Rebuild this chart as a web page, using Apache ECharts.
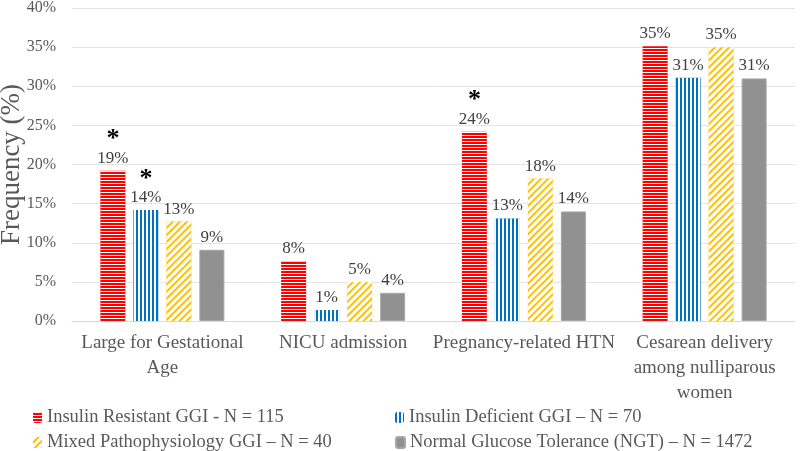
<!DOCTYPE html>
<html>
<head>
<meta charset="utf-8">
<script src="https://cdn.jsdelivr.net/npm/echarts@6/dist/echarts.min.js"></script>
<style>
  html, body { margin: 0; padding: 0; background: #fff; }
  #main { width: 800px; height: 451px; }
</style>
</head>
<body>
<div id="main"></div>
<script>
// 数据
var categories = ['Large for Gestational\nAge', 'NICU admission', 'Pregnancy-related HTN', 'Cesarean delivery\namong nulliparous\nwomen'];
var seriesNames = ['Insulin Resistant GGI - N = 115', 'Insulin Deficient GGI \u2013 N = 70', 'Mixed Pathophysiology GGI \u2013 N = 40', 'Normal Glucose Tolerance (NGT) \u2013 N = 1472'];
var insulinResistant = [19.2, 7.6, 24.2, 35.1];
var insulinDeficient = [14.2, 1.4, 13.1, 31.1];
var mixed = [12.7, 5.0, 18.2, 35.0];
var normal = [9.1, 3.6, 14.0, 31.0];
// 显著性星号
var starsIR = [true, false, true, false];
var starsID = [true, false, false, false];
var yTicks = ['0%', '5%', '10%', '15%', '20%', '25%', '30%', '35%', '40%'];

var serif = '"Liberation Serif", "Times New Roman", serif';

function makeLabel(stars) {
  return {
    show: true,
    position: 'top',
    distance: 3,
    fontFamily: serif,
    fontSize: 17,
    color: '#404040',
    formatter: function (p) {
      var txt = Math.round(p.value) + '%';
      if (stars && stars[p.dataIndex]) {
        return '{star|*}\n{v|' + txt + '}';
      }
      return '{v|' + txt + '}';
    },
    rich: {
      v: { fontFamily: serif, fontSize: 17, color: '#404040', lineHeight: 19 },
      star: { fontFamily: serif, fontSize: 26, fontWeight: 'bold', color: '#000', lineHeight: 20, padding: [0, 0, -2, 0] }
    }
  };
}

// 图例：每项单独放置，两列两行
function legendItem(name, left, top) {
  return {
    left: left,
    top: top,
    itemWidth: 9,
    itemHeight: 11,
    data: [name],
    textStyle: { fontFamily: serif, fontSize: 18.5, color: '#595959' }
  };
}

var myChart = echarts.init(document.getElementById('main'));

var option = {
  animation: false,
  grid: { left: 72, right: 5, top: 8, bottom: 130, containLabel: false, outerBoundsMode: 'none' },
  legend: [
    legendItem(seriesNames[0], 28, 403),
    legendItem(seriesNames[1], 390, 403),
    legendItem(seriesNames[2], 28, 428),
    legendItem(seriesNames[3], 390, 428)
  ],
  xAxis: {
    type: 'category',
    data: categories,
    axisTick: { show: false },
    axisLine: { lineStyle: { color: '#d9d9d9' } },
    axisLabel: {
      fontFamily: serif,
      fontSize: 19,
      color: '#595959',
      lineHeight: 25,
      margin: 10,
      interval: 0
    }
  },
  yAxis: {
    type: 'value',
    min: 0,
    max: 40,
    interval: 5,
    name: 'Frequency (%)',
    nameLocation: 'middle',
    nameGap: 47,
    nameMoveOverlap: false,
    nameTextStyle: { fontFamily: serif, fontSize: 27, color: '#595959' },
    axisLine: { show: false },
    axisTick: { show: false },
    splitLine: { lineStyle: { color: '#e4e4e4' } },
    axisLabel: {
      fontFamily: serif,
      fontSize: 16,
      color: '#595959',
      margin: 16,
      formatter: function (v) { return yTicks[v / 5]; }
    }
  },
  series: [{
    name: seriesNames[0],
    type: 'bar',
    barWidth: 25,
    barGap: '32%',
    data: insulinResistant,
    itemStyle: {
      color: '#FF0000',
      decal: { symbol: 'rect', symbolSize: 1, dashArrayX: [1, 0], dashArrayY: [1, 2], color: '#ffffff' }
    },
    label: makeLabel(starsIR)
  }, {
    name: seriesNames[1],
    type: 'bar',
    barWidth: 25,
    barGap: '32%',
    data: insulinDeficient,
    itemStyle: {
      color: '#0070C0',
      decal: { symbol: 'rect', symbolSize: 1, dashArrayX: [1, 0], dashArrayY: [1.5, 2], rotation: Math.PI / 2, color: '#ffffff' }
    },
    label: makeLabel(starsID)
  }, {
    name: seriesNames[2],
    type: 'bar',
    barWidth: 25,
    barGap: '32%',
    data: mixed,
    itemStyle: {
      color: '#FFC000',
      decal: { symbol: 'rect', symbolSize: 1, dashArrayX: [1, 0], dashArrayY: [2.5, 1.5], rotation: -Math.PI / 4, color: '#ffffff' }
    },
    label: makeLabel(null)
  }, {
    name: seriesNames[3],
    type: 'bar',
    barWidth: 25,
    barGap: '32%',
    data: normal,
    itemStyle: { color: '#919191', borderColor: '#a6a6a6', borderWidth: 1 },
    label: makeLabel(null)
  }]
};

myChart.setOption(option);
</script>
</body>
</html>
